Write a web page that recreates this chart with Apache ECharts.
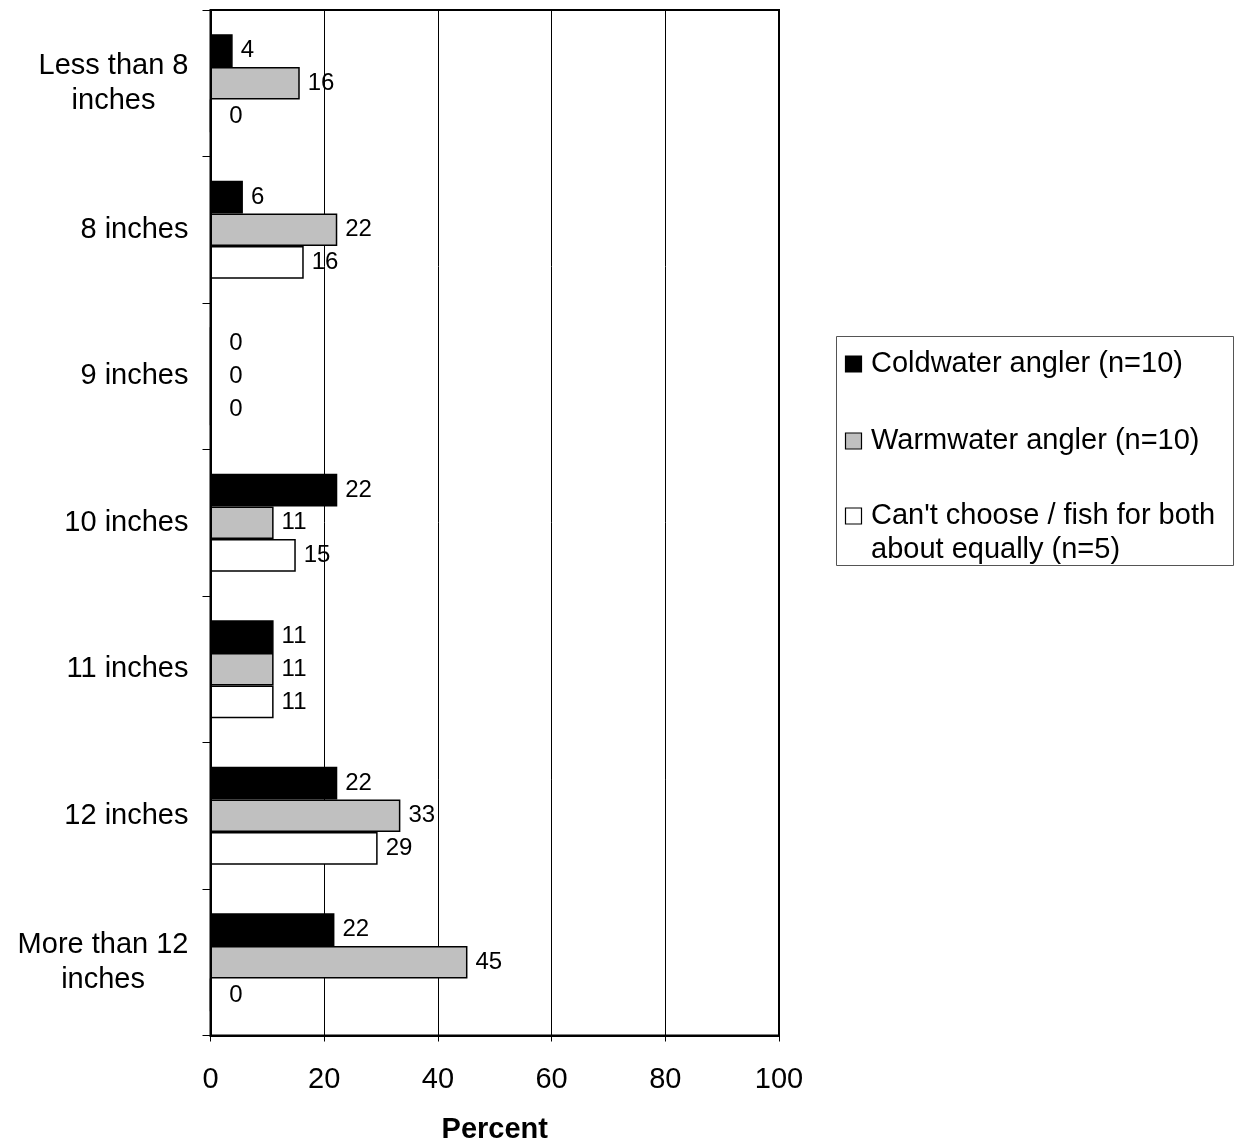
<!DOCTYPE html>
<html>
<head>
<meta charset="utf-8">
<script src="https://cdn.jsdelivr.net/npm/echarts@6/dist/echarts.min.js"></script>
<style>
html,body{margin:0;padding:0;background:#fff;overflow:hidden;}
#chart{width:1235px;height:1141px;}
</style>
</head>
<body>
<div id="chart"></div>
<script>
const categories = ['Less than 8\ninches', '8 inches', '9 inches', '10 inches', '11 inches', '12 inches', 'More than 12\ninches'];
const seriesNames = ['Coldwater angler (n=10)', 'Warmwater angler (n=10)', "Can't choose / fish for both\nabout equally (n=5)"];
const coldwater = [3.9, 5.7, 0, 22.3, 11.1, 22.3, 21.8];
const warmwater = [15.7, 22.3, 0, 11.1, 11.1, 33.4, 45.2];
const both = [0, 16.4, 0, 15.0, 11.1, 29.4, 0];
const xTicks = [0, 20, 40, 60, 80, 100];
const xName = 'Percent';

const fills = ['#000000', '#c0c0c0', '#ffffff'];
const FONT = 'Arial, "Liberation Sans", sans-serif';

function makeSeries(name, values, color) {
  return {
    name: name,
    type: 'bar',
    barGap: '0%',
    barCategoryGap: '33%',
    itemStyle: { color: color, borderColor: '#000', borderWidth: 1.5 },
    label: {
      show: true,
      position: 'right',
      distance: 8,
      color: '#000',
      fontSize: 24,
      fontFamily: FONT,
      formatter: p => String(Math.round(p.value))
    },
    data: values.map(v => v === 0 ? { value: v, label: { distance: 18 } } : v),
    z: 3
  };
}

const chart = echarts.init(document.getElementById('chart'), null, { renderer: 'canvas', width: 1235, height: 1141 });

const legendItems = [];
const legendLines = [[364], [441], [516, 550]];
seriesNames.forEach((n, i) => {
  const cy = legendLines[i][0];
  legendItems.push({
    type: 'rect',
    shape: { x: 845.5, y: cy - 8, width: 16, height: 16 },
    style: { fill: fills[i], stroke: '#000', lineWidth: 1.2 }
  });
  n.split('\n').forEach((line, j) => {
    legendItems.push({
      type: 'text',
      x: 871, y: legendLines[i][j],
      style: { text: line, fill: '#000', font: '29px ' + FONT, textVerticalAlign: 'middle', textAlign: 'left' }
    });
  });
});

const option = {
  backgroundColor: '#fff',
  animation: false,
  grid: {
    left: 210.5, top: 10, width: 568.5, height: 1025.5,
    show: true, borderColor: '#000', borderWidth: 2, backgroundColor: 'transparent',
    containLabel: false,
    outerBoundsMode: 'none'
  },
  xAxis: {
    type: 'value',
    min: xTicks[0], max: xTicks[xTicks.length - 1], interval: 20,
    name: xName,
    nameLocation: 'middle',
    nameGap: 80,
    nameTextStyle: { fontSize: 29, fontWeight: 'bold', color: '#000', fontFamily: FONT },
    axisLine: { show: true, lineStyle: { color: '#000', width: 2 } },
    axisTick: { show: true, length: 6, lineStyle: { color: '#000', width: 1 } },
    axisLabel: { fontSize: 29, color: '#000', fontFamily: FONT, margin: 30 },
    splitLine: { show: true, lineStyle: { color: '#000', width: 1 } }
  },
  yAxis: {
    type: 'category',
    data: categories,
    inverse: true,
    axisLine: { show: true, lineStyle: { color: '#000', width: 2 } },
    axisTick: { show: true, length: 8, lineStyle: { color: '#000', width: 1 } },
    axisLabel: {
      fontSize: 29, color: '#000', fontFamily: FONT, margin: 22, lineHeight: 35,
      formatter: v => v.split('\n').map(s => '{c|' + s + '}').join('\n'),
      rich: { c: { align: 'center', fontSize: 29, lineHeight: 35, color: '#000', fontFamily: FONT } }
    },
    splitLine: { show: false }
  },
  series: [
    makeSeries(seriesNames[0], coldwater, fills[0]),
    makeSeries(seriesNames[1], warmwater, fills[1]),
    makeSeries(seriesNames[2], both, fills[2])
  ],
  graphic: [
    {
      type: 'rect',
      shape: { x: 836.5, y: 336.5, width: 397, height: 229 },
      style: { fill: '#fff', stroke: '#555', lineWidth: 1 }
    }
  ].concat(legendItems)
};
chart.setOption(option);
</script>
</body>
</html>
